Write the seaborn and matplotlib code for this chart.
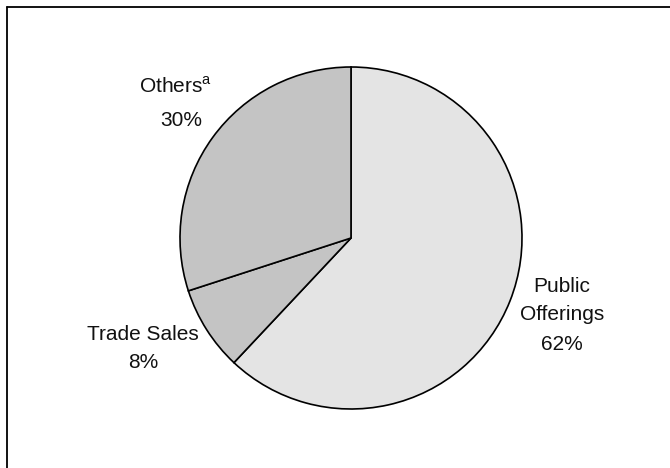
import matplotlib
matplotlib.use("Agg")
import matplotlib.pyplot as plt
import seaborn as sns
from matplotlib.lines import Line2D

# data
segments = ["Public Offerings", "Trade Sales", "Others"]
shares = [62, 8, 30]
colors = ["#e4e4e4", "#c4c4c4", "#c4c4c4"]

sns.set_style("white")
plt.rcParams["font.family"] = ["Liberation Sans", "DejaVu Sans"]
plt.rcParams["mathtext.fontset"] = "custom"
plt.rcParams["mathtext.rm"] = "Liberation Sans"

W, H = 670, 468
fig = plt.figure(figsize=(W / 100, H / 100), dpi=100)
ax = fig.add_axes([0, 0, 1, 1])

ax.pie(shares, colors=colors, startangle=90, counterclock=False,
       center=(351, H - 238), radius=171,
       wedgeprops=dict(edgecolor="black", linewidth=1.2))
ax.set_xlim(0, W)
ax.set_ylim(0, H)
ax.set_aspect("equal")
ax.axis("off")

fs = 15
def label(x, y, s):
    ax.text(x, H - y, s, fontsize=fs, ha="center", va="center", color="#111111")

label(175, 86, "Others$^{\\rm a}$")
label(181, 120, "30%")
label(143, 334, "Trade Sales")
label(143, 363, "8%")
label(562, 286, "Public")
label(562, 314, "Offerings")
label(562, 345, "62%")

# frame line on the top and left edge
fig.add_artist(Line2D([6.5 / W, 6.5 / W], [0, 1 - 7 / H], color="black", lw=1.3))
fig.add_artist(Line2D([6.5 / W, 1], [1 - 7 / H, 1 - 7 / H], color="black", lw=1.3))

fig.savefig("out.png", dpi=100)
